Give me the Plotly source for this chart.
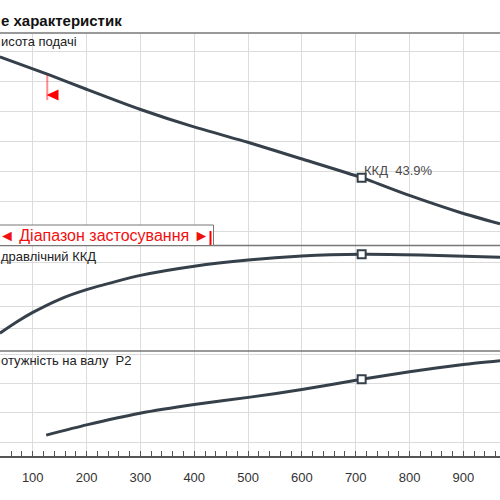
import plotly.graph_objects as go

# ---- data ----
Q_HEAD = [39, 132, 201, 299, 398, 498, 597, 711, 801, 894, 968]
H_HEAD = [6.83, 6.22, 5.74, 5.08, 4.50, 3.99, 3.44, 2.80, 2.20, 1.64, 1.26]

Q_EFF = [39, 70, 101, 150, 200, 300, 400, 500, 600, 711, 820, 968]
EFF = [7.9, 13.0, 17.5, 23.4, 27.8, 34.3, 38.5, 41.3, 43.1, 43.9, 43.6, 42.6]

Q_POW = [125, 200, 299, 400, 504, 600, 711, 800, 900, 968]
POW = [0.124, 0.159, 0.199, 0.229, 0.254, 0.280, 0.315, 0.341, 0.366, 0.379]

Q_DUTY = 711
H_DUTY = 2.80
EFF_DUTY = 43.9
POW_DUTY = 0.315
Q_MIN = 127

X_TICKS = [100, 200, 300, 400, 500, 600, 700, 800, 900]

TITLE = "е характеристик"
LBL_H = "исота подачі"
LBL_EFF = "дравлічний ККД"
LBL_POW = "отужність на валу  P2"
LBL_RANGE = "◄ Діапазон застосування ►"
LBL_DUTY = "ККД  43.9%"

W = H = 500
def px(x):
    return x / W
def py(y):
    return 1 - y / H

LINE = "#36404a"
GRID = "#dcdcdc"
FONT = "Arial, Liberation Sans, sans-serif"

fig = go.Figure()

def add_curve(q, v, xa, ya):
    fig.add_trace(go.Scatter(x=q, y=v, mode="lines", xaxis=xa, yaxis=ya,
                             line=dict(color=LINE, width=3, shape="spline", smoothing=0.6),
                             hoverinfo="skip", showlegend=False))

def add_marker(q, v, xa, ya):
    fig.add_trace(go.Scatter(x=[q], y=[v], mode="markers", xaxis=xa, yaxis=ya,
                             marker=dict(symbol="square", size=8, color="white",
                                         line=dict(color=LINE, width=2)),
                             hoverinfo="skip", showlegend=False))

add_curve(Q_HEAD, H_HEAD, "x", "y")
add_curve(Q_EFF, EFF, "x2", "y2")
add_curve(Q_POW, POW, "x3", "y3")
add_marker(Q_DUTY, H_DUTY, "x", "y")
add_marker(Q_DUTY, EFF_DUTY, "x2", "y2")
add_marker(Q_DUTY, POW_DUTY, "x3", "y3")

XR = [39.2, 968.0]
xcommon = dict(range=XR, showgrid=True, gridcolor=GRID, gridwidth=1, zeroline=False,
               tickvals=X_TICKS, domain=[0, 1])
ycommon = dict(showgrid=True, gridcolor=GRID, gridwidth=1, zeroline=False,
               showticklabels=False, ticks="", showline=False)

fig.update_layout(
    width=W, height=H, margin=dict(l=0, r=0, t=0, b=0),
    paper_bgcolor="white", plot_bgcolor="white",
    font=dict(family=FONT, color="#222"),
    xaxis=dict(**xcommon, anchor="y", showticklabels=False, ticks=""),
    xaxis2=dict(**xcommon, anchor="y2", showticklabels=False, ticks="", matches="x"),
    xaxis3=dict(**xcommon, anchor="y3", matches="x", showticklabels=True,
                ticks="inside", ticklen=5, tickcolor="#555", tickwidth=1,
                showline=True, linecolor="#555", linewidth=1.5,
                minor=dict(dtick=20, ticks="inside", ticklen=5, tickcolor="#555", showgrid=False),
                tickfont=dict(size=13, color="#333", family=FONT), ticklabelstandoff=9),
    yaxis=dict(**ycommon, domain=[py(245.5), py(33)], range=[0.54, 7.623],
               tickvals=[1, 2, 3, 4, 5, 6, 7]),
    yaxis2=dict(**ycommon, domain=[py(351), py(245.5)], range=[-0.23, 47.95],
                tickvals=[10, 20, 30, 40]),
    yaxis3=dict(**ycommon, domain=[py(456), py(351)], range=[0.0524, 0.412],
                tickvals=[0.1, 0.2, 0.3, 0.4]),
)

shapes = []
# panel frame lines
shapes.append(dict(type="line", xref="paper", yref="paper", x0=0, x1=1, y0=py(33), y1=py(33),
                   line=dict(color="#999", width=2)))
for yy in (245.5, 351):
    shapes.append(dict(type="line", xref="paper", yref="paper", x0=0, x1=1, y0=py(yy), y1=py(yy),
                       line=dict(color="#777", width=1.5)))
# application range box
shapes.append(dict(type="rect", xref="paper", yref="paper", x0=px(-2), x1=px(213.5),
                   y0=py(245.5), y1=py(225), fillcolor="white", line=dict(color="#777", width=1)))
shapes.append(dict(type="line", xref="paper", yref="paper", x0=px(210.5), x1=px(210.5),
                   y0=py(231), y1=py(245), line=dict(color="red", width=2)))
# minimum flow marker
shapes.append(dict(type="line", xref="x", yref="paper", x0=Q_MIN, x1=Q_MIN,
                   y0=py(75), y1=py(100), line=dict(color="rgba(255,0,0,0.45)", width=2)))
shapes.append(dict(type="path", xref="paper", yref="paper",
                   path=f"M {px(46.5)},{py(95)} L {px(58.5)},{py(89.5)} L {px(58.5)},{py(100.5)} Z",
                   fillcolor="red", line=dict(color="red", width=0)))
fig.update_layout(shapes=shapes)

ann = []
def text(t, x, y, size=13, color="#222", bold=False, anchor="left"):
    ann.append(dict(text=f"<b>{t}</b>" if bold else t, x=px(x), y=py(y), xref="paper", yref="paper",
                    xanchor=anchor, yanchor="middle", showarrow=False,
                    font=dict(size=size, color=color, family=FONT)))

text(TITLE, -1, 20, size=15, color="#111", bold=True)
text(LBL_H, -1, 42)
text(LBL_EFF, -1, 256)
text(LBL_POW, -1, 360)
text(LBL_RANGE, -3, 235.5, size=16, color="#f01010")
text(LBL_DUTY, 362, 170, size=13, color="#4a4a4a")
fig.update_layout(annotations=ann)

fig.write_html("out.html")
